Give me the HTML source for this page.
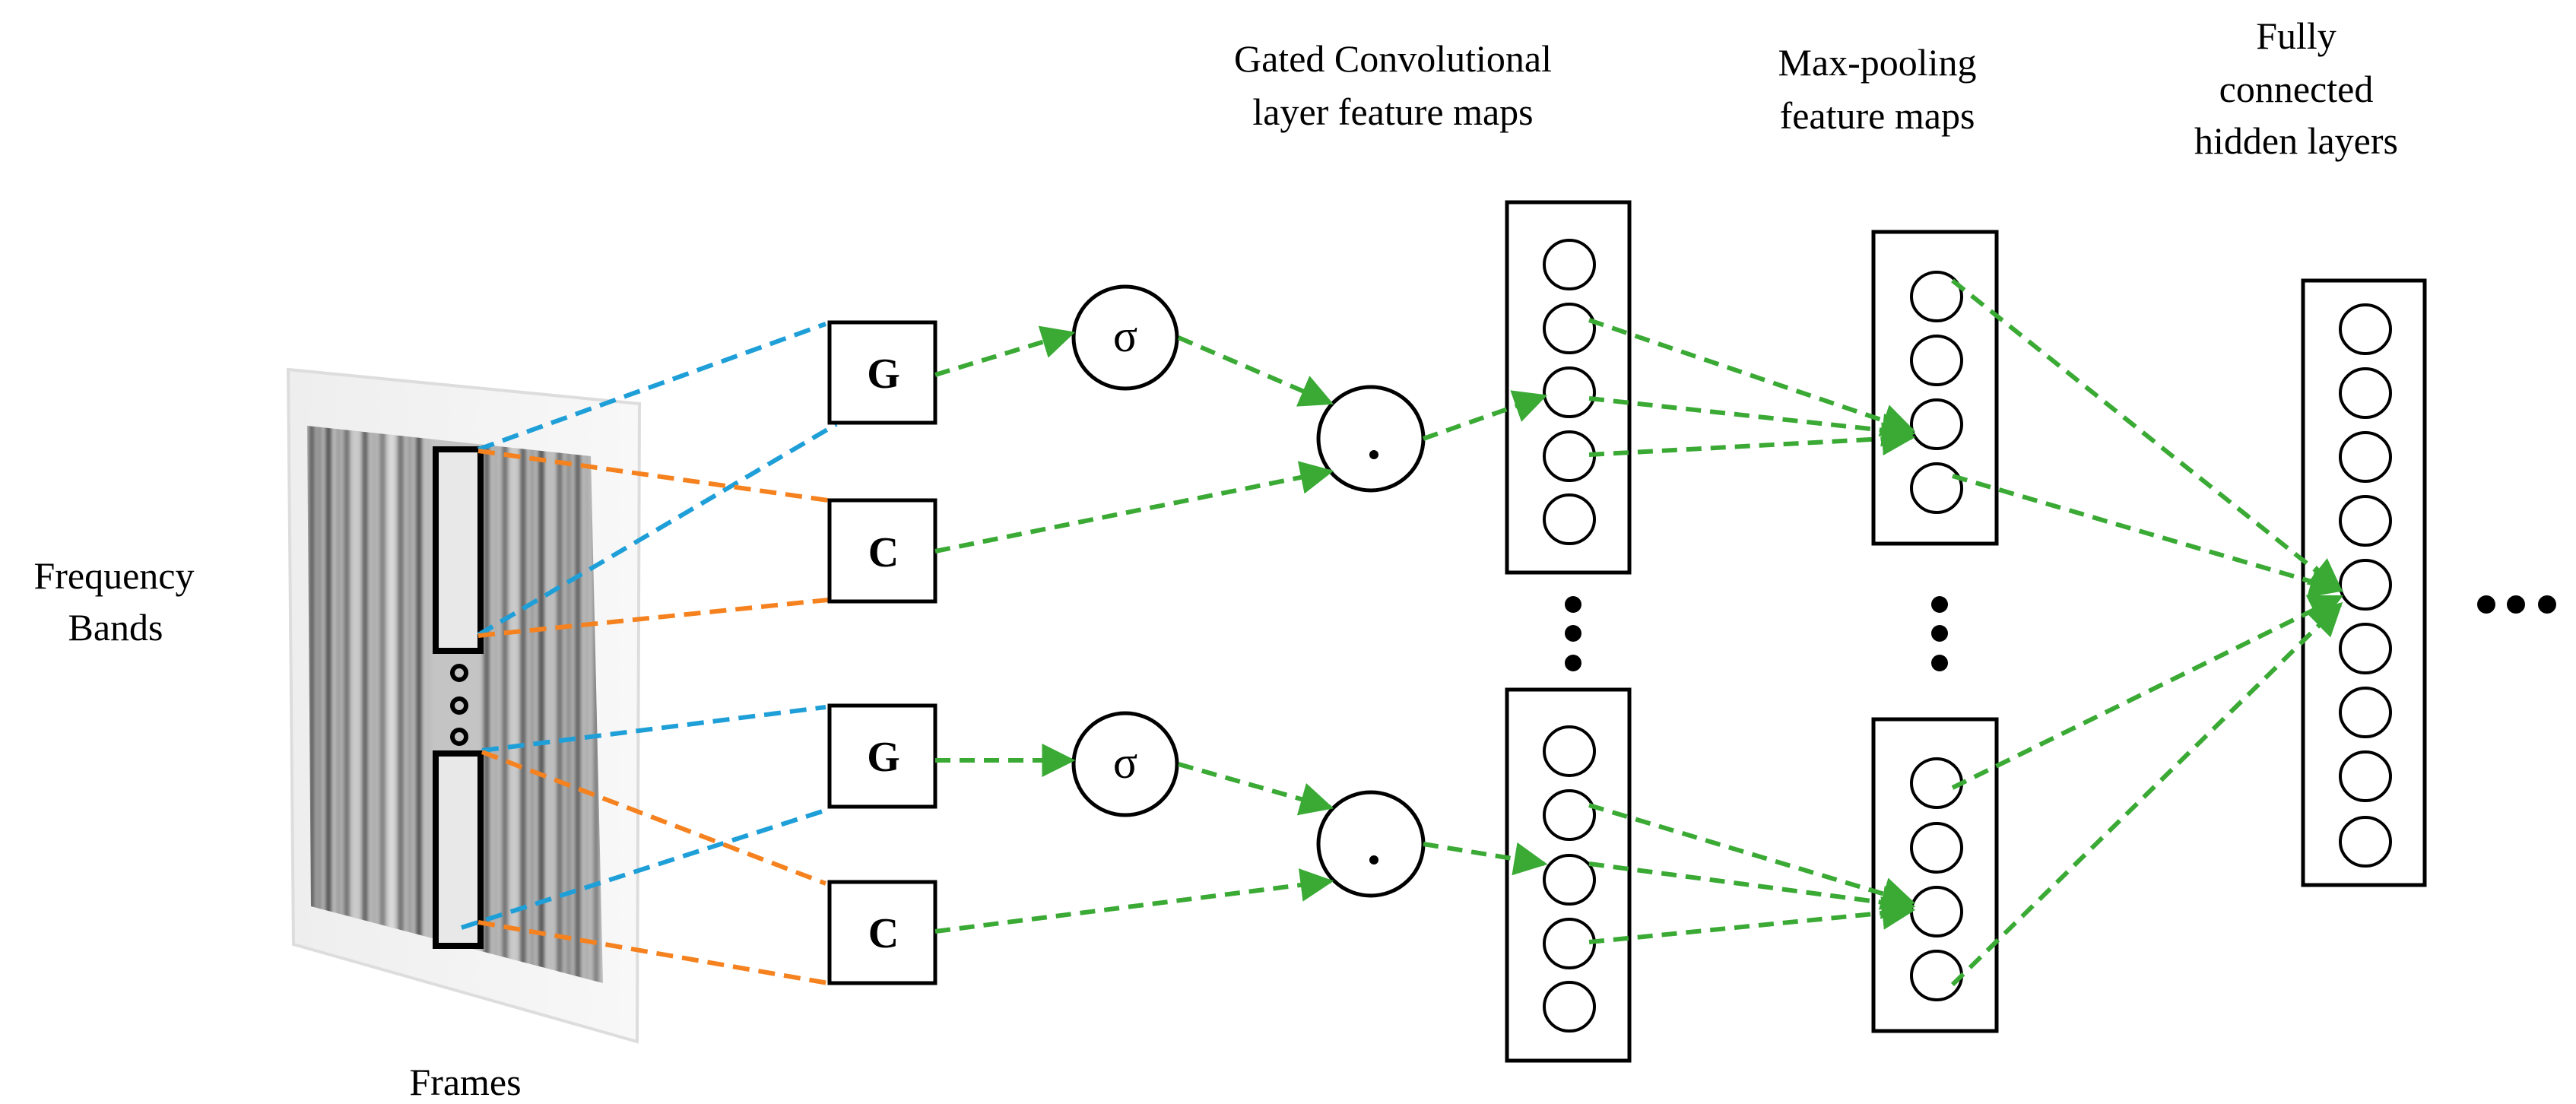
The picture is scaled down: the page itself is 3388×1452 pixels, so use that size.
<!DOCTYPE html>
<html><head><meta charset="utf-8"><style>
html,body{margin:0;padding:0;background:#fff}
svg{display:block}
text{font-family:"Liberation Serif",serif;fill:#000}
</style></head><body>
<svg width="3388" height="1452" viewBox="0 0 3388 1452" xmlns="http://www.w3.org/2000/svg">
<defs>
<marker id="a" viewBox="0 0 10 10" refX="9" refY="5" markerWidth="44" markerHeight="44" markerUnits="userSpaceOnUse" orient="auto"><path d="M0,0 L10,5 L0,10 z" fill="#3aaa35"/></marker>
<clipPath id="cp"><polygon points="404,560 777,600 793,1293 409,1192"/></clipPath>
<filter id="bl" x="-5%" y="-5%" width="110%" height="110%"><feGaussianBlur stdDeviation="3"/></filter>
<linearGradient id="pg" x1="0" x2="1"><stop offset="0" stop-color="#eee"/><stop offset="1" stop-color="#f8f8f8"/></linearGradient>
</defs>
<polygon points="379,486 841,531 838,1370 386,1242" fill="url(#pg)" stroke="#ddd" stroke-width="4"/>
<polygon points="404,560 777,600 793,1293 409,1192" fill="#c4c4c4"/>
<g clip-path="url(#cp)"><g stroke-width="7" filter="url(#bl)">
<line x1="410" y1="550" x2="410" y2="1300" stroke="#555"/>
<line x1="420" y1="550" x2="420" y2="1300" stroke="#888"/>
<line x1="432" y1="550" x2="432" y2="1300" stroke="#444"/>
<line x1="445" y1="550" x2="445" y2="1300" stroke="#999"/>
<line x1="456" y1="550" x2="456" y2="1300" stroke="#666"/>
<line x1="468" y1="550" x2="468" y2="1300" stroke="#ccc"/>
<line x1="480" y1="550" x2="480" y2="1300" stroke="#555"/>
<line x1="492" y1="550" x2="492" y2="1300" stroke="#aaa"/>
<line x1="503" y1="550" x2="503" y2="1300" stroke="#777"/>
<line x1="515" y1="550" x2="515" y2="1300" stroke="#ddd"/>
<line x1="527" y1="550" x2="527" y2="1300" stroke="#666"/>
<line x1="539" y1="550" x2="539" y2="1300" stroke="#999"/>
<line x1="551" y1="550" x2="551" y2="1300" stroke="#444"/>
<line x1="563" y1="550" x2="563" y2="1300" stroke="#bbb"/>
<line x1="640" y1="550" x2="640" y2="1300" stroke="#555"/>
<line x1="652" y1="550" x2="652" y2="1300" stroke="#aaa"/>
<line x1="664" y1="550" x2="664" y2="1300" stroke="#666"/>
<line x1="676" y1="550" x2="676" y2="1300" stroke="#ccc"/>
<line x1="688" y1="550" x2="688" y2="1300" stroke="#555"/>
<line x1="700" y1="550" x2="700" y2="1300" stroke="#999"/>
<line x1="712" y1="550" x2="712" y2="1300" stroke="#444"/>
<line x1="724" y1="550" x2="724" y2="1300" stroke="#bbb"/>
<line x1="736" y1="550" x2="736" y2="1300" stroke="#666"/>
<line x1="748" y1="550" x2="748" y2="1300" stroke="#888"/>
<line x1="760" y1="550" x2="760" y2="1300" stroke="#555"/>
<line x1="772" y1="550" x2="772" y2="1300" stroke="#aaa"/>
<line x1="784" y1="550" x2="784" y2="1300" stroke="#777"/>
</g></g>
<rect x="573" y="591" width="59" height="265" fill="#e8e8e8" stroke="#000" stroke-width="8"/>
<rect x="573" y="991" width="59" height="253" fill="#e8e8e8" stroke="#000" stroke-width="8"/>
<g fill="none" stroke="#000" stroke-width="6">
<circle cx="604" cy="885" r="9"/><circle cx="604" cy="928" r="9"/><circle cx="604" cy="969" r="9"/>
</g>
<g fill="none" stroke-width="6" stroke-dasharray="22,12">
<line x1="629" y1="591" x2="1086" y2="426" stroke="#1f9fd8"/>
<line x1="629" y1="835" x2="1100" y2="558" stroke="#1f9fd8"/>
<line x1="629" y1="593" x2="1089" y2="658" stroke="#f5821f"/>
<line x1="629" y1="836" x2="1089" y2="789" stroke="#f5821f"/>
<line x1="634" y1="987" x2="1086" y2="930" stroke="#1f9fd8"/>
<line x1="607" y1="1220" x2="1091" y2="1064" stroke="#1f9fd8"/>
<line x1="634" y1="989" x2="1086" y2="1162" stroke="#f5821f"/>
<line x1="629" y1="1213" x2="1089" y2="1293" stroke="#f5821f"/>
</g>
<g fill="#fff" stroke="#000" stroke-width="5">
<rect x="1091" y="424" width="139" height="132"/>
<rect x="1091" y="658" width="139" height="133"/>
<rect x="1091" y="928" width="139" height="133"/>
<rect x="1091" y="1160" width="139" height="133"/>
</g>
<g font-size="56" font-weight="bold" text-anchor="middle">
<text x="1162" y="510">G</text><text x="1162" y="745">C</text>
<text x="1162" y="1014">G</text><text x="1162" y="1246">C</text>
</g>
<g fill="#fff" stroke="#000" stroke-width="5">
<ellipse cx="1480" cy="444" rx="68" ry="67"/>
<ellipse cx="1480" cy="1005" rx="68" ry="67"/>
<ellipse cx="1803" cy="577" rx="69" ry="68"/>
<ellipse cx="1803" cy="1110" rx="69" ry="68"/>
</g>
<g font-size="60" text-anchor="middle"><text x="1480" y="462">σ</text><text x="1480" y="1023">σ</text></g>
<circle cx="1807" cy="598" r="6"/><circle cx="1807" cy="1131" r="6"/>
<g fill="#fff" stroke="#000" stroke-width="5">
<rect x="1982" y="266" width="161" height="487"/>
<rect x="1982" y="907" width="161" height="488"/>
<rect x="2464" y="305" width="162" height="410"/>
<rect x="2464" y="946" width="162" height="410"/>
<rect x="3029" y="369" width="160" height="795"/>
</g>
<g fill="none" stroke="#000" stroke-width="4">
<ellipse cx="2064" cy="348" rx="33" ry="32"/><ellipse cx="2064" cy="432" rx="33" ry="32"/><ellipse cx="2064" cy="516" rx="33" ry="32"/><ellipse cx="2064" cy="600" rx="33" ry="32"/><ellipse cx="2064" cy="683" rx="33" ry="32"/>
<ellipse cx="2064" cy="988" rx="33" ry="32"/><ellipse cx="2064" cy="1072" rx="33" ry="32"/><ellipse cx="2064" cy="1157" rx="33" ry="32"/><ellipse cx="2064" cy="1241" rx="33" ry="32"/><ellipse cx="2064" cy="1324" rx="33" ry="32"/>
<ellipse cx="2547" cy="390" rx="33" ry="32"/><ellipse cx="2547" cy="474" rx="33" ry="32"/><ellipse cx="2547" cy="558" rx="33" ry="32"/><ellipse cx="2547" cy="642" rx="33" ry="32"/>
<ellipse cx="2547" cy="1030" rx="33" ry="32"/><ellipse cx="2547" cy="1115" rx="33" ry="32"/><ellipse cx="2547" cy="1199" rx="33" ry="32"/><ellipse cx="2547" cy="1283" rx="33" ry="32"/>
<ellipse cx="3111" cy="433" rx="33" ry="32"/><ellipse cx="3111" cy="517" rx="33" ry="32"/><ellipse cx="3111" cy="601" rx="33" ry="32"/><ellipse cx="3111" cy="685" rx="33" ry="32"/><ellipse cx="3111" cy="769" rx="33" ry="32"/><ellipse cx="3111" cy="853" rx="33" ry="32"/><ellipse cx="3111" cy="937" rx="33" ry="32"/><ellipse cx="3111" cy="1021" rx="33" ry="32"/><ellipse cx="3111" cy="1107" rx="33" ry="32"/>
</g>
<g fill="#000">
<circle cx="2069" cy="795" r="11"/><circle cx="2069" cy="833" r="11"/><circle cx="2069" cy="872" r="11"/>
<circle cx="2551" cy="795" r="11"/><circle cx="2551" cy="833" r="11"/><circle cx="2551" cy="872" r="11"/>
<circle cx="3270" cy="795" r="12"/><circle cx="3309" cy="795" r="12"/><circle cx="3350" cy="795" r="12"/>
</g>
<g fill="none" stroke="#3aaa35" stroke-width="6" stroke-dasharray="20,12" marker-end="url(#a)">
<line x1="1230" y1="493" x2="1410" y2="438"/>
<line x1="1230" y1="725" x2="1750" y2="620"/>
<line x1="1550" y1="444" x2="1750" y2="530"/>
<line x1="1230" y1="1000" x2="1410" y2="1000"/>
<line x1="1230" y1="1225" x2="1750" y2="1159"/>
<line x1="1550" y1="1005" x2="1750" y2="1062"/>
<line x1="1872" y1="577" x2="2031" y2="521"/>
<line x1="2090" y1="421" x2="2515" y2="566"/>
<line x1="2090" y1="524" x2="2515" y2="570"/>
<line x1="2090" y1="598" x2="2515" y2="575"/>
<line x1="1872" y1="1110" x2="2031" y2="1136"/>
<line x1="2090" y1="1059" x2="2515" y2="1187"/>
<line x1="2090" y1="1136" x2="2515" y2="1192"/>
<line x1="2090" y1="1239" x2="2515" y2="1197"/>
<line x1="2568" y1="369" x2="3078" y2="776"/>
<line x1="2568" y1="626" x2="3078" y2="776"/>
<line x1="2568" y1="1036" x2="3078" y2="785"/>
<line x1="2568" y1="1295" x2="3078" y2="795"/>
</g>
<g font-size="50" text-anchor="middle">
<text x="150" y="774">Frequency</text>
<text x="152" y="842">Bands</text>
<text x="612" y="1440">Frames</text>
<text x="1832" y="94">Gated Convolutional</text>
<text x="1832" y="164">layer feature maps</text>
<text x="2469" y="99">Max-pooling</text>
<text x="2469" y="169">feature maps</text>
<text x="3020" y="64">Fully</text>
<text x="3020" y="134">connected</text>
<text x="3020" y="202">hidden layers</text>
</g>
</svg>
</body></html>
